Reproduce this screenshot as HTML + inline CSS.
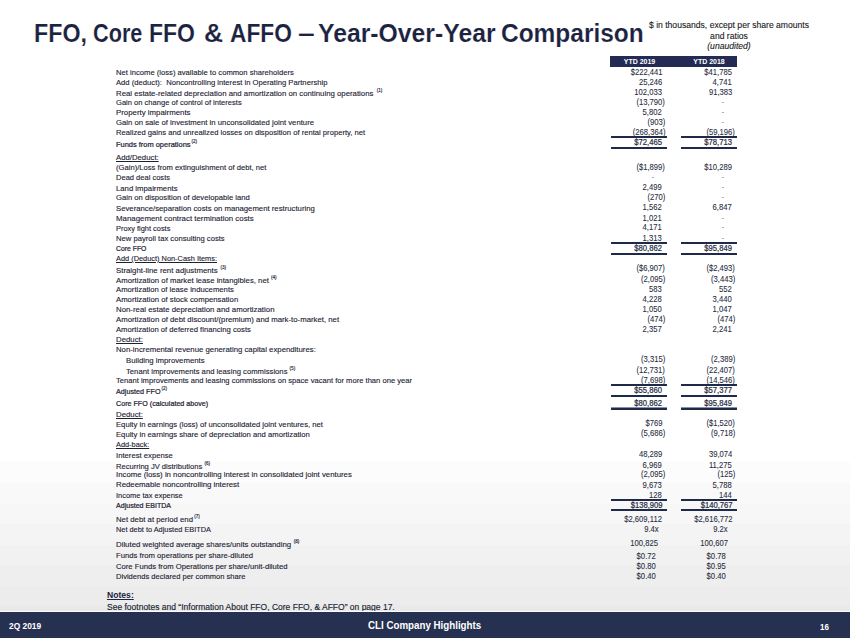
<!DOCTYPE html>
<html><head><meta charset="utf-8"><style>
html,body{margin:0;padding:0;}
body{width:850px;height:638px;position:relative;overflow:hidden;font-family:"Liberation Sans",sans-serif;
background:linear-gradient(to bottom,#ffffff 0px,#ffffff 462px,#fcfcfc 462px,#fcfcfc 483px,#f9f9f9 483px,#f9f9f9 504px,#f7f7f7 504px,#f7f7f7 524px,#f4f4f4 524px,#f4f4f4 545px,#f1f1f1 545px,#f1f1f1 565px,#eeeeee 565px,#eeeeee 586px,#ececec 586px,#ececec 606px,#e9e9e9 606px,#e9e9e9 611px);}
.t{position:absolute;white-space:nowrap;line-height:10px;height:10px;}
.l{left:116px;font-size:7.65px;color:#1d2233;-webkit-text-stroke:0.12px #1d2233;}
.l.i{left:126px;}
.l.b{-webkit-text-stroke:0.22px #1d2233;}
.l.u{text-decoration:underline;}
.v{font-size:8.30px;color:#262c40;text-align:right;-webkit-text-stroke:0.08px #262c40;transform:scaleX(0.922);transform-origin:100% 0;}
.v.b{-webkit-text-stroke:0.22px #262c40;}
.sp{font-size:4.6px;color:#1d2233;-webkit-text-stroke:0.15px #1d2233;}
.l{transform-origin:0 0;}
.bar{position:absolute;background:#1f2a4a;}
</style></head><body>

<div style="position:absolute;left:34.07px;top:15.8px;font-size:25.4px;font-weight:bold;color:#1b2340;-webkit-text-stroke:0.15px #ffffff;white-space:nowrap;line-height:34px;transform:scaleX(0.9148);transform-origin:0 0;">FFO,</div>
<div style="position:absolute;left:93.15px;top:15.8px;font-size:25.4px;font-weight:bold;color:#1b2340;-webkit-text-stroke:0.15px #ffffff;white-space:nowrap;line-height:34px;transform:scaleX(0.8536);transform-origin:0 0;">Core</div>
<div style="position:absolute;left:149.39px;top:15.8px;font-size:25.4px;font-weight:bold;color:#1b2340;-webkit-text-stroke:0.15px #ffffff;white-space:nowrap;line-height:34px;transform:scaleX(0.9062);transform-origin:0 0;">FFO</div>
<div style="position:absolute;left:204.26px;top:15.8px;font-size:25.4px;font-weight:bold;color:#1b2340;-webkit-text-stroke:0.15px #ffffff;white-space:nowrap;line-height:34px;transform:scaleX(1.0412);transform-origin:0 0;">&amp;</div>
<div style="position:absolute;left:229.70px;top:15.8px;font-size:25.4px;font-weight:bold;color:#1b2340;-webkit-text-stroke:0.15px #ffffff;white-space:nowrap;line-height:34px;transform:scaleX(0.8955);transform-origin:0 0;">AFFO</div>
<div style="position:absolute;left:297.62px;top:15.8px;font-size:25.4px;font-weight:bold;color:#1b2340;-webkit-text-stroke:0.15px #ffffff;white-space:nowrap;line-height:34px;transform:scaleX(1.1833);transform-origin:0 0;">–</div>
<div style="position:absolute;left:318.42px;top:15.8px;font-size:25.4px;font-weight:bold;color:#1b2340;-webkit-text-stroke:0.15px #ffffff;white-space:nowrap;line-height:34px;transform:scaleX(0.9751);transform-origin:0 0;">Year-Over-Year</div>
<div style="position:absolute;left:500.84px;top:15.8px;font-size:25.4px;font-weight:bold;color:#1b2340;-webkit-text-stroke:0.15px #ffffff;white-space:nowrap;line-height:34px;transform:scaleX(0.9634);transform-origin:0 0;">Comparison</div>
<div class="t" style="left:628.9px;width:200px;top:20.00px;font-size:9px;color:#1a1a1a;-webkit-text-stroke:0.12px #1a1a1a;text-align:center;transform:scaleX(0.955);transform-origin:50% 0;">$ in thousands, except per share amounts</div>
<div class="t" style="left:628.9px;width:200px;top:31.00px;font-size:9px;color:#1a1a1a;-webkit-text-stroke:0.12px #1a1a1a;text-align:center;transform:scaleX(0.955);transform-origin:50% 0;">and ratios</div>
<div class="t" style="left:628.9px;width:200px;top:41.00px;font-size:9px;font-style:italic;color:#1a1a1a;-webkit-text-stroke:0.12px #1a1a1a;text-align:center;transform:scaleX(0.955);transform-origin:50% 0;">(unaudited)</div>
<div class="bar" style="left:610px;top:56px;width:127px;height:10.6px;background:#232b55;"></div>
<div class="t" style="left:610px;width:59px;top:57.00px;font-size:7px;font-weight:bold;color:#fff;text-align:center;">YTD 2019</div>
<div class="t" style="left:680px;width:58px;top:57.00px;font-size:7px;font-weight:bold;color:#fff;text-align:center;">YTD 2018</div>
<div class="t l" style="left:115.5px;top:68.00px;transform:scaleX(0.9998)">Net income (loss) available to common shareholders</div>
<div class="t v" style="right:187.80px;top:67.00px">$222,441</div>
<div class="t v" style="right:117.90px;top:67.00px">$41,785</div>
<div class="t l" style="left:115.5px;top:78.00px;transform:scaleX(1.0019)">Add (deduct):&nbsp; Noncontrolling interest in Operating Partnership</div>
<div class="t v" style="right:187.80px;top:77.00px">25,246</div>
<div class="t v" style="right:117.90px;top:77.00px">4,741</div>
<div class="t l" style="left:115.5px;top:89.00px;transform:scaleX(1.0202)">Real estate-related depreciation and amortization on continuing operations</div>
<div class="t sp" style="right:467.60px;top:86.40px">(1)</div>
<div class="t v" style="right:187.80px;top:87.00px">102,033</div>
<div class="t v" style="right:117.90px;top:87.00px">91,383</div>
<div class="t l" style="left:115.5px;top:98.00px;transform:scaleX(0.9898)">Gain on change of control of interests</div>
<div class="t v" style="right:184.80px;top:97.00px">(13,790)</div>
<div class="t v" style="color:#8a8d99;-webkit-text-stroke:0;left:712.1px;width:20px;text-align:center;top:97.00px">-</div>
<div class="t l" style="left:115.5px;top:108.00px;transform:scaleX(1.0260)">Property impairments</div>
<div class="t v" style="right:187.80px;top:107.00px">5,802</div>
<div class="t v" style="color:#8a8d99;-webkit-text-stroke:0;left:712.1px;width:20px;text-align:center;top:107.00px">-</div>
<div class="t l" style="left:115.5px;top:118.00px;transform:scaleX(1.0112)">Gain on sale of investment in unconsolidated joint venture</div>
<div class="t v" style="right:184.80px;top:117.00px">(903)</div>
<div class="t v" style="color:#8a8d99;-webkit-text-stroke:0;left:712.1px;width:20px;text-align:center;top:117.00px">-</div>
<div class="t l" style="left:115.5px;top:128.00px;transform:scaleX(1.0001)">Realized gains and unrealized losses on disposition of rental property, net</div>
<div class="t v" style="right:184.80px;top:127.00px">(268,364)</div>
<div class="t v" style="right:114.90px;top:127.00px">(59,196)</div>
<div class="t l b" style="left:115.5px;top:140.00px;transform:scaleX(0.9745)">Funds from operations</div>
<div class="t sp" style="right:653.00px;top:137.40px">(2)</div>
<div class="t v b" style="right:187.80px;top:137.00px">$72,465</div>
<div class="t v b" style="right:117.90px;top:137.00px">$78,713</div>
<div class="t l u" style="left:115.5px;top:153.00px;transform:scaleX(1.0152)">Add/Deduct:</div>
<div class="t l" style="left:115.5px;top:163.00px;transform:scaleX(0.9976)">(Gain)/Loss from extinguishment of debt, net</div>
<div class="t v" style="right:184.80px;top:162.00px">($1,899)</div>
<div class="t v" style="right:117.90px;top:162.00px">$10,289</div>
<div class="t l" style="left:115.5px;top:173.00px;transform:scaleX(0.9855)">Dead deal costs</div>
<div class="t v" style="color:#8a8d99;-webkit-text-stroke:0;left:642.4px;width:20px;text-align:center;top:172.00px">-</div>
<div class="t v" style="color:#8a8d99;-webkit-text-stroke:0;left:712.1px;width:20px;text-align:center;top:172.00px">-</div>
<div class="t l" style="left:115.5px;top:184.00px;transform:scaleX(1.0126)">Land impairments</div>
<div class="t v" style="right:187.80px;top:182.00px">2,499</div>
<div class="t v" style="color:#8a8d99;-webkit-text-stroke:0;left:712.1px;width:20px;text-align:center;top:182.00px">-</div>
<div class="t l" style="left:115.5px;top:193.00px;transform:scaleX(1.0031)">Gain on disposition of developable land</div>
<div class="t v" style="right:184.80px;top:192.00px">(270)</div>
<div class="t v" style="color:#8a8d99;-webkit-text-stroke:0;left:712.1px;width:20px;text-align:center;top:192.00px">-</div>
<div class="t l" style="left:115.5px;top:204.00px;transform:scaleX(1.0132)">Severance/separation costs on management restructuring</div>
<div class="t v" style="right:187.80px;top:202.00px">1,562</div>
<div class="t v" style="right:117.90px;top:202.00px">6,847</div>
<div class="t l" style="left:115.5px;top:214.00px;transform:scaleX(1.0293)">Management contract termination costs</div>
<div class="t v" style="right:187.80px;top:213.00px">1,021</div>
<div class="t v" style="color:#8a8d99;-webkit-text-stroke:0;left:712.1px;width:20px;text-align:center;top:213.00px">-</div>
<div class="t l" style="left:115.5px;top:224.00px;transform:scaleX(0.9703)">Proxy fight costs</div>
<div class="t v" style="right:187.80px;top:222.00px">4,171</div>
<div class="t v" style="color:#8a8d99;-webkit-text-stroke:0;left:712.1px;width:20px;text-align:center;top:222.00px">-</div>
<div class="t l" style="left:115.5px;top:234.00px;transform:scaleX(0.9998)">New payroll tax consulting costs</div>
<div class="t v" style="right:187.80px;top:233.00px">1,313</div>
<div class="t v" style="color:#8a8d99;-webkit-text-stroke:0;left:712.1px;width:20px;text-align:center;top:233.00px">-</div>
<div class="t l b" style="left:115.5px;top:244.00px;transform:scaleX(0.8949)">Core FFO</div>
<div class="t v b" style="right:187.80px;top:243.00px">$80,862</div>
<div class="t v b" style="right:117.90px;top:243.00px">$95,849</div>
<div class="t l u" style="left:115.5px;top:254.00px;transform:scaleX(0.9668)">Add (Deduct) Non-Cash Items:</div>
<div class="t l" style="left:115.5px;top:266.00px;transform:scaleX(1.0232)">Straight-line rent adjustments</div>
<div class="t sp" style="right:624.00px;top:263.40px">(3)</div>
<div class="t v" style="right:184.80px;top:263.00px">($6,907)</div>
<div class="t v" style="right:114.90px;top:263.00px">($2,493)</div>
<div class="t l" style="left:115.5px;top:276.00px;transform:scaleX(1.0170)">Amortization of market lease intangibles, net</div>
<div class="t sp" style="right:573.50px;top:273.40px">(4)</div>
<div class="t v" style="right:184.80px;top:274.00px">(2,095)</div>
<div class="t v" style="right:114.90px;top:274.00px">(3,443)</div>
<div class="t l" style="left:115.5px;top:285.00px;transform:scaleX(1.0094)">Amortization of lease inducements</div>
<div class="t v" style="right:187.80px;top:284.00px">583</div>
<div class="t v" style="right:117.90px;top:284.00px">552</div>
<div class="t l" style="left:115.5px;top:295.00px;transform:scaleX(1.0132)">Amortization of stock compensation</div>
<div class="t v" style="right:187.80px;top:294.00px">4,228</div>
<div class="t v" style="right:117.90px;top:294.00px">3,440</div>
<div class="t l" style="left:115.5px;top:305.00px;transform:scaleX(1.0252)">Non-real estate depreciation and amortization</div>
<div class="t v" style="right:187.80px;top:304.00px">1,050</div>
<div class="t v" style="right:117.90px;top:304.00px">1,047</div>
<div class="t l" style="left:115.5px;top:315.00px;transform:scaleX(1.0181)">Amortization of debt discount/(premium) and mark-to-market, net</div>
<div class="t v" style="right:184.80px;top:314.00px">(474)</div>
<div class="t v" style="right:114.90px;top:314.00px">(474)</div>
<div class="t l" style="left:115.5px;top:325.00px;transform:scaleX(1.0051)">Amortization of deferred financing costs</div>
<div class="t v" style="right:187.80px;top:324.00px">2,357</div>
<div class="t v" style="right:117.90px;top:324.00px">2,241</div>
<div class="t l u" style="left:115.5px;top:335.00px;transform:scaleX(1.0211)">Deduct:</div>
<div class="t l" style="left:115.5px;top:345.00px;transform:scaleX(1.0182)">Non-incremental revenue generating capital expenditures:</div>
<div class="t l i" style="left:125.5px;top:356.00px;transform:scaleX(1.0169)">Building improvements</div>
<div class="t v" style="right:184.80px;top:354.00px">(3,315)</div>
<div class="t v" style="right:114.90px;top:354.00px">(2,389)</div>
<div class="t l i" style="left:125.5px;top:367.00px;transform:scaleX(1.0060)">Tenant improvements and leasing commissions</div>
<div class="t sp" style="right:554.80px;top:364.40px">(5)</div>
<div class="t v" style="right:184.80px;top:365.00px">(12,731)</div>
<div class="t v" style="right:114.90px;top:365.00px">(22,407)</div>
<div class="t l" style="left:115.5px;top:376.00px;transform:scaleX(0.9942)">Tenant improvements and leasing commissions on space vacant for more than one year</div>
<div class="t v" style="right:184.80px;top:375.00px">(7,698)</div>
<div class="t v" style="right:114.90px;top:375.00px">(14,546)</div>
<div class="t l b" style="left:115.5px;top:387.00px;transform:scaleX(0.9440)">Adjusted FFO</div>
<div class="t sp" style="right:683.00px;top:384.40px">(2)</div>
<div class="t v b" style="right:187.80px;top:385.00px">$55,860</div>
<div class="t v b" style="right:117.90px;top:385.00px">$57,377</div>
<div class="t l b" style="left:115.5px;top:399.00px;transform:scaleX(0.9357)">Core FFO (calculated above)</div>
<div class="t v b" style="right:187.80px;top:398.00px">$80,862</div>
<div class="t v b" style="right:117.90px;top:398.00px">$95,849</div>
<div class="t l u" style="left:115.5px;top:410.00px;transform:scaleX(1.0211)">Deduct:</div>
<div class="t l" style="left:115.5px;top:420.00px;transform:scaleX(1.0044)">Equity in earnings (loss) of unconsolidated joint ventures, net</div>
<div class="t v" style="right:187.80px;top:418.00px">$769</div>
<div class="t v" style="right:114.90px;top:418.00px">($1,520)</div>
<div class="t l" style="left:115.5px;top:430.00px;transform:scaleX(1.0050)">Equity in earnings share of depreciation and amortization</div>
<div class="t v" style="right:184.80px;top:428.00px">(5,686)</div>
<div class="t v" style="right:114.90px;top:428.00px">(9,718)</div>
<div class="t l u" style="left:115.5px;top:440.00px;transform:scaleX(0.9649)">Add-back:</div>
<div class="t l" style="left:115.5px;top:451.00px;transform:scaleX(1.0071)">Interest expense</div>
<div class="t v" style="right:187.80px;top:449.00px">48,289</div>
<div class="t v" style="right:117.90px;top:449.00px">39,074</div>
<div class="t l" style="left:115.5px;top:462.00px;transform:scaleX(0.9901)">Recurring JV distributions</div>
<div class="t sp" style="right:640.00px;top:459.40px">(6)</div>
<div class="t v" style="right:187.80px;top:460.00px">6,969</div>
<div class="t v" style="right:117.90px;top:460.00px">11,275</div>
<div class="t l" style="left:115.5px;top:470.00px;transform:scaleX(1.0187)">Income (loss) in noncontrolling interest in consolidated joint ventures</div>
<div class="t v" style="right:184.80px;top:469.00px">(2,095)</div>
<div class="t v" style="right:114.90px;top:469.00px">(125)</div>
<div class="t l" style="left:115.5px;top:480.00px;transform:scaleX(1.0249)">Redeemable noncontrolling interest</div>
<div class="t v" style="right:187.80px;top:480.00px">9,673</div>
<div class="t v" style="right:117.90px;top:480.00px">5,788</div>
<div class="t l" style="left:115.5px;top:491.00px;transform:scaleX(0.9753)">Income tax expense</div>
<div class="t v" style="right:187.80px;top:490.00px">128</div>
<div class="t v" style="right:117.90px;top:490.00px">144</div>
<div class="t l b" style="left:115.5px;top:501.00px;transform:scaleX(0.9265)">Adjusted EBITDA</div>
<div class="t v b" style="right:187.80px;top:500.00px">$138,909</div>
<div class="t v b" style="right:117.90px;top:500.00px">$140,767</div>
<div class="t l" style="left:115.5px;top:515.00px;transform:scaleX(1.0182)">Net debt at period end</div>
<div class="t sp" style="right:650.10px;top:512.40px">(7)</div>
<div class="t v" style="right:187.80px;top:514.00px">$2,609,112</div>
<div class="t v" style="right:117.90px;top:514.00px">$2,616,772</div>
<div class="t l" style="left:115.5px;top:525.00px;transform:scaleX(0.9640)">Net debt to Adjusted EBITDA</div>
<div class="t v" style="right:191.70px;top:524.00px">9.4x</div>
<div class="t v" style="right:122.50px;top:524.00px">9.2x</div>
<div class="t l" style="left:115.5px;top:540.00px;transform:scaleX(1.0229)">Diluted weighted average shares/units outstanding</div>
<div class="t sp" style="right:550.60px;top:537.40px">(8)</div>
<div class="t v" style="right:191.70px;top:538.00px">100,825</div>
<div class="t v" style="right:122.50px;top:538.00px">100,607</div>
<div class="t l" style="left:115.5px;top:551.00px;transform:scaleX(1.0080)">Funds from operations per share-diluted</div>
<div class="t v" style="right:193.80px;top:551.00px">$0.72</div>
<div class="t v" style="right:124.50px;top:551.00px">$0.78</div>
<div class="t l" style="left:115.5px;top:562.00px;transform:scaleX(1.0045)">Core Funds from Operations per share/unit-diluted</div>
<div class="t v" style="right:193.80px;top:561.00px">$0.80</div>
<div class="t v" style="right:124.50px;top:561.00px">$0.95</div>
<div class="t l" style="left:115.5px;top:572.00px;transform:scaleX(0.9900)">Dividends declared per common share</div>
<div class="t v" style="right:193.80px;top:571.00px">$0.40</div>
<div class="t v" style="right:124.50px;top:571.00px">$0.40</div>
<div class="bar" style="left:611px;width:56px;top:407px;height:1px;background:#8a90a6"></div>
<div class="bar" style="left:681px;width:56px;top:407px;height:1px;background:#8a90a6"></div>
<div class="bar" style="left:611px;width:56px;top:136.1px;height:1.8px"></div>
<div class="bar" style="left:681px;width:56px;top:136.1px;height:1.8px"></div>
<div class="bar" style="left:611px;width:56px;top:146.6px;height:2.2px"></div>
<div class="bar" style="left:681px;width:56px;top:146.6px;height:2.2px"></div>
<div class="bar" style="left:611px;width:56px;top:241.8px;height:2.0px"></div>
<div class="bar" style="left:681px;width:56px;top:241.8px;height:2.0px"></div>
<div class="bar" style="left:611px;width:56px;top:253.2px;height:2.0px"></div>
<div class="bar" style="left:681px;width:56px;top:253.2px;height:2.0px"></div>
<div class="bar" style="left:611px;width:56px;top:384.4px;height:1.7px"></div>
<div class="bar" style="left:681px;width:56px;top:384.4px;height:1.7px"></div>
<div class="bar" style="left:611px;width:56px;top:395.0px;height:1.9px"></div>
<div class="bar" style="left:681px;width:56px;top:395.0px;height:1.9px"></div>
<div class="bar" style="left:611px;width:56px;top:408px;height:2px"></div>
<div class="bar" style="left:681px;width:56px;top:408px;height:2px"></div>
<div class="bar" style="left:611px;width:56px;top:499.2px;height:1.8px"></div>
<div class="bar" style="left:681px;width:56px;top:499.2px;height:1.8px"></div>
<div class="bar" style="left:611px;width:56px;top:509.1px;height:1.8px"></div>
<div class="bar" style="left:681px;width:56px;top:509.1px;height:1.8px"></div>
<div class="t" style="left:107px;top:589.00px;font-size:8.6px;font-weight:bold;text-decoration:underline;text-underline-offset:0.6px;color:#1b2340;line-height:12px;height:12px">Notes:</div>
<div class="t" style="left:107px;top:601.00px;font-size:8.5px;color:#1a1f33;-webkit-text-stroke:0.15px #1a1f33;line-height:12px;height:12px">See footnotes and “Information About FFO, Core FFO, &amp; AFFO” on page 17.</div>
<div style="position:absolute;left:0;top:611px;width:850px;height:1px;background:#fbfbfb"></div>
<div style="position:absolute;left:0;top:612px;width:850px;height:26px;background:#263152"></div>
<div class="t" style="left:8.6px;top:621.00px;font-size:9.2px;font-weight:bold;color:#fff;transform:scaleX(0.912);transform-origin:0 0;">2Q 2019</div>
<div class="t" style="left:367.6px;top:621.00px;font-size:10.2px;font-weight:bold;color:#fff;transform:scaleX(0.957);transform-origin:0 0;">CLI Company Highlights</div>
<div class="t" style="left:820px;top:622.00px;font-size:8.4px;font-weight:bold;color:#fff;transform:scaleX(0.95);transform-origin:0 0;">16</div>
</body></html>
